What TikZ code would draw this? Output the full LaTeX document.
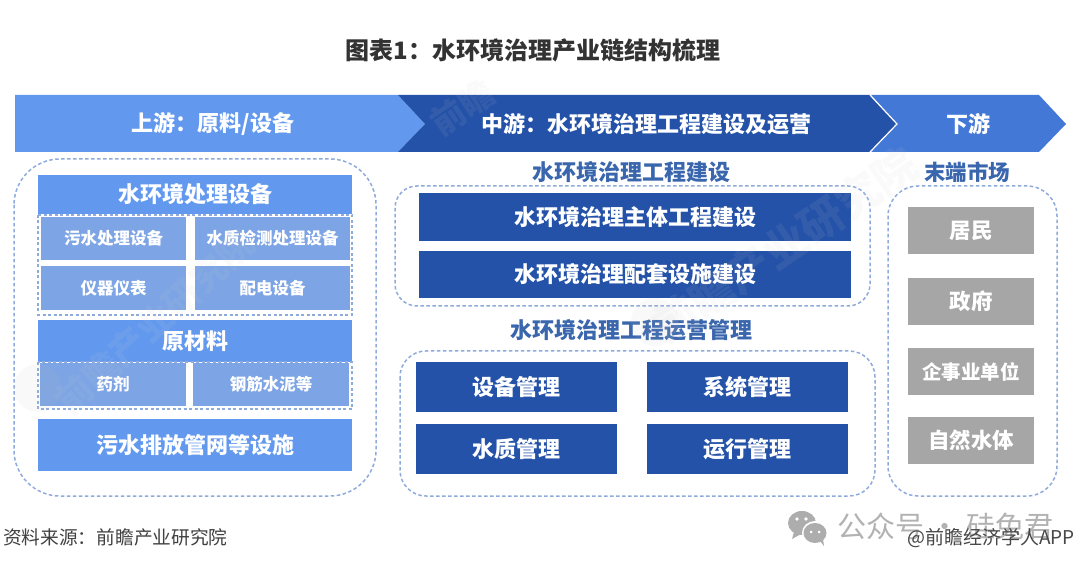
\documentclass[tikz,border=0pt]{standalone}
\usepackage{fontspec}
\setmainfont{Noto Sans CJK SC}
\usetikzlibrary{shapes.geometric}
\definecolor{upb}{HTML}{6299EE}
\definecolor{midb}{HTML}{2452A8}
\definecolor{downb}{HTML}{4378D6}
\definecolor{subb}{HTML}{7DA4E4}
\definecolor{greyb}{HTML}{A6A6A6}
\definecolor{dashb}{HTML}{8FABDC}
\definecolor{titleb}{HTML}{3A66AE}
\tikzset{
  boxbase/.style={inner sep=0pt,outer sep=0pt,align=center,text=white,font=\bfseries},
  upbox/.style={boxbase,fill=upb},
  subbox/.style={boxbase,fill=subb},
  midbox/.style={boxbase,fill=midb},
  greybox/.style={boxbase,fill=greyb},
  dashbox/.style={draw=dashb,line width=1.5pt,dash pattern=on 3.5pt off 2.5pt,rounded corners=#1},
  innerdash/.style={draw=dashb,line width=1.2pt,dash pattern=on 3pt off 2.5pt},
  wmark/.style={text=black!18,inner sep=0pt,font=\bfseries},
  headlabel/.style={text=white,font=\bfseries\fontsize{22}{22}\selectfont,inner sep=0pt},
  seclabel/.style={text=titleb,font=\bfseries\fontsize{22}{22}\selectfont,inner sep=0pt},
}
\newcommand{\bx}[7]{%
  \pgfmathsetmacro{\bxw}{#5-#3}\pgfmathsetmacro{\bxh}{#6-#4}%
  \pgfmathsetmacro{\bxx}{(#3+#5)/2}\pgfmathsetmacro{\bxy}{(#4+#6)/2}%
  \node[#2,minimum width=\bxw pt,minimum height=\bxh pt] (#1) at (\bxx,\bxy) {#7};}
\newcommand{\fs}[1]{\fontsize{#1}{#1}\selectfont}
\begin{document}
\begin{tikzpicture}[x=1pt,y=-1pt]
\useasboundingbox (0,0) rectangle (1080,572);
\fill[white] (0,0) rectangle (1080,572);

\node[font=\bfseries\fs{24},text=black!80,inner sep=0pt] (title) at (533,50) {图表1：水环境治理产业链结构梳理};

% chain band
\fill[upb] (15,95) -- (398,95) -- (425,124) -- (398,152) -- (15,152) -- cycle;
\fill[midb] (398,95) -- (870,95) -- (897,124) -- (870,152) -- (398,152) -- (425,124) -- cycle;
\fill[downb] (871,95) -- (1039,95) -- (1066,124) -- (1039,152) -- (871,152) -- (897,124) -- cycle;
\draw[white,line width=1.2pt] (870,95) -- (897,124) -- (870,152);
\node[headlabel] (up) at (213,124) {上游：原料/设备};
\node[headlabel] (mid) at (646,124) {中游：水环境治理工程建设及运营};
\node[headlabel] (down) at (968,124) {下游};

% left group
\draw[dashbox=46pt] (14,159) rectangle (376,496);
\bx{eq}{upbox}{38}{175}{352}{214}{\fs{22}水环境处理设备}
\draw[innerdash] (38,215) rectangle (352,315);
\bx{e1}{subbox}{41}{217}{186}{260}{\fs{16.5}污水处理设备}
\bx{e2}{subbox}{195}{217}{350}{260}{\fs{16.5}水质检测处理设备}
\bx{e3}{subbox}{41}{266}{186}{310}{\fs{16.5}仪器仪表}
\bx{e4}{subbox}{195}{266}{350}{310}{\fs{16.5}配电设备}
\bx{mat}{upbox}{38}{320}{352}{362}{\fs{22}原材料}
\draw[innerdash] (38,362) rectangle (352,409);
\bx{m1}{subbox}{40}{363}{186}{406}{\fs{16.5}药剂}
\bx{m2}{subbox}{193}{363}{349}{406}{\fs{16.5}钢筋水泥等}
\bx{pipe}{upbox}{38}{419}{352}{471}{\fs{22}污水排放管网等设施}

% middle groups
\node[seclabel] (s1) at (631,172) {水环境治理工程建设};
\draw[dashbox=22pt] (395,186) rectangle (870,306);
\bx{c1}{midbox}{419}{193}{851}{241}{\fs{22}水环境治理主体工程建设}
\bx{c2}{midbox}{419}{251}{851}{298}{\fs{22}水环境治理配套设施建设}
\node[seclabel] (s2) at (631,330) {水环境治理工程运营管理};
\draw[dashbox=26pt] (400,351) rectangle (875,496);
\bx{o1}{midbox}{416}{362}{617}{412}{\fs{22}设备管理}
\bx{o2}{midbox}{647}{362}{848}{412}{\fs{22}系统管理}
\bx{o3}{midbox}{416}{424}{617}{474}{\fs{22}水质管理}
\bx{o4}{midbox}{647}{424}{848}{474}{\fs{22}运行管理}

% right group
\node[seclabel,font=\bfseries\fs{21.5}] (s3) at (967,172) {末端市场};
\draw[dashbox=30pt] (888,186) rectangle (1057,496);
\bx{g1}{greybox}{908}{207}{1034}{254}{\fs{21.5}居民}
\bx{g2}{greybox}{908}{278}{1034}{325}{\fs{21.5}政府}
\bx{g3}{greybox}{908}{348}{1034}{395}{\fs{19.5}企事业单位}
\bx{g4}{greybox}{908}{417}{1034}{464}{\fs{21.5}自然水体}

% faint watermarks
\begin{scope}[opacity=.09]
\node[wmark,font=\bfseries\fs{36},rotate=42] (w1) at (155,322) {前瞻产业研究院};
\node[wmark,font=\bfseries\fs{44},rotate=34] (w2) at (785,245) {前瞻产业研究院};
\node[wmark,font=\bfseries\fs{34},rotate=34] (w3) at (462,108) {前瞻};
\fill[black!25] (38,388) circle (24pt);
\fill[black!25] (655,322) circle (24pt);
\end{scope}

% footer
\node[anchor=west,font=\fs{18.7},text=black!75,inner sep=0pt] (src) at (3,537) {资料来源：前瞻产业研究院};
% WeChat mark
\fill[black!32] (802,523) ellipse (14pt and 12pt);
\fill[black!32] (794,532) -- (792,539) -- (801,534) -- cycle;
\fill[white] (815,533) ellipse (13pt and 12pt);
\fill[black!32] (815,533) ellipse (11.5pt and 10pt);
\fill[black!32] (820,541) -- (824,546) -- (823,539) -- cycle;
\fill[white] (797,519) circle (1.8pt) (806,519) circle (1.8pt) (811,532) circle (1.5pt) (819,532) circle (1.5pt);
\node[anchor=west,font=\fs{29},text=black!30,inner sep=0pt] (wx) at (837,526) {公众号 · 硅兔君};
\node[anchor=east,font=\fs{19},text=black!72,inner sep=0pt] (app) at (1075,538) {@前瞻经济学人APP};
\end{tikzpicture}
\end{document}
